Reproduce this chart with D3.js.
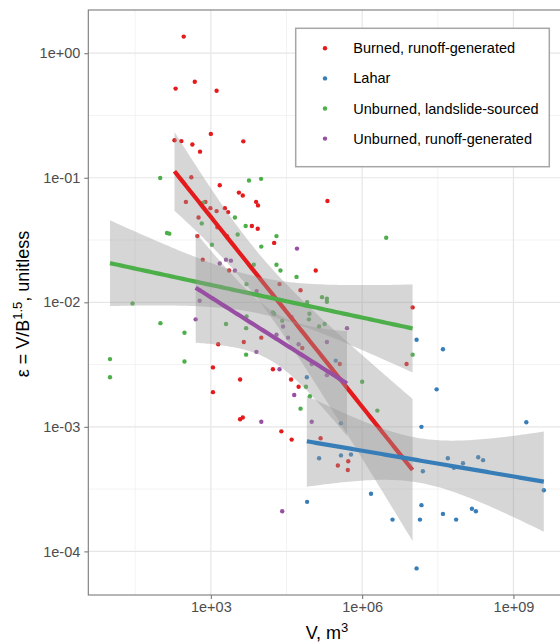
<!DOCTYPE html>
<html>
<head>
<meta charset="utf-8">
<script src="https://cdn.jsdelivr.net/npm/d3@7"></script>
<style>
  body { margin: 0; background: #fff; }
  text { font-family: "Liberation Sans", Arial, Helvetica, sans-serif; }
</style>
</head>
<body>
<div id="chart"></div>
<script>
// Groups, in legend (and drawing) order
const groups = ["Burned, runoff-generated", "Lahar", "Unburned, landslide-sourced", "Unburned, runoff-generated"];
const colors = ["#E41A1C", "#377EB8", "#4DAF4A", "#984EA3"];

// Burned, runoff-generated
const burnedV = [2.9e2, 4.8e2, 2.0e2, 1.3e3, 1.0e3, 4.4e3, 1.9e2, 2.6e2, 4.3e2, 6.1e2, 4.1e2, 1.5e3, 3.6e3, 4.3e3, 7.9e3, 8.6e3,
  3.2e2, 7.8e2, 9.8e2, 1.3e3, 1.9e3, 2.2e3, 5.7e2, 1.35e3, 6.5e3, 8.5e3, 5.4e2, 2.1e3, 1.8e4, 6.9e2, 2.3e3, 2.3e4, 2.05e5,
  1.2e5, 6.0e4, 1.0e7, 1.4e3, 4.5e3, 1.0e4, 6.5e4, 3.6e5, 7.6e6, 1.1e3, 1.7e4, 3.8e3, 3.9e4, 5.5e4, 1.1e3, 3.8e3, 4.3e3,
  2.5e4, 4.0e4, 1.5e5, 3.3e5, 5.3e5, 5.2e5];
const burnedE = [1.36, 0.59, 0.52, 0.50, 0.225, 0.196, 0.20, 0.197, 0.185, 0.162, 0.101, 0.087, 0.076, 0.072, 0.064, 0.060,
  0.064, 0.064, 0.057, 0.054, 0.057, 0.053, 0.048, 0.040, 0.041, 0.039, 0.034, 0.034, 0.030, 0.022, 0.018, 0.014, 0.065,
  0.018, 0.0125, 0.0091, 0.0046, 0.0048, 0.0052, 0.0043, 0.0032, 0.0032, 0.0030, 0.0029, 0.0024, 0.0024, 0.0021, 0.0019,
  0.00115, 0.00119, 0.00092, 0.00079, 0.00081, 0.00049, 0.00053, 0.00045];

// Lahar
const laharV = [1.2e7, 4.0e7, 3.0e7, 1.5e7, 1.8e9, 3.8e5, 1.4e5, 3.8e5, 6.0e5, 1.6e7, 5.0e7, 6.6e7, 1.0e8, 2.0e8, 2.5e8,
  4.0e9, 8.1e4, 1.5e6, 1.5e7, 1.4e7, 4.0e6, 4.0e7, 7.3e7, 1.5e8, 1.8e8, 1.2e7, 3.0e5, 8.0e4];
const laharE = [0.0050, 0.0042, 0.0020, 0.0010, 0.00109, 0.00107, 0.00056, 0.00059, 0.00060, 0.00044, 0.00056, 0.00047,
  0.00051, 0.00057, 0.00054, 0.00031, 0.00025, 0.00029, 0.000235, 0.00018, 0.00018, 0.00020, 0.00018, 0.00022, 0.00021,
  0.000073, 0.0034, 0.0025];

// Unburned, landslide-sourced
const landslideV = [99, 5.7e3, 9.9e3, 7.0e2, 3.0e3, 6.6e2, 4.9e3, 1.35e2, 1.5e2, 3.4e3, 2.0e4, 1.05e3, 1.0e4, 7.1e3, 2.0e4,
  2.4e4, 5.1e3, 28, 3.0e6, 5.0e4, 1.6e5, 2.0e5, 2.0e5, 8.1e4, 1.7e4, 1.8e4, 9.0e4, 8.8e4, 5.1e3, 2.6e4, 1.8e5, 1.4e5,
  5.0e3, 5.0e3, 1.0e6, 7.7e4, 9.2e4, 6.0e4, 1.0e7, 2.0e6, 1.0e2, 2.0e3, 3.0e2, 10, 3.0e2, 10];
const landslideE = [0.0995, 0.095, 0.098, 0.063, 0.048, 0.043, 0.041, 0.036, 0.0356, 0.035, 0.034, 0.029, 0.028, 0.020,
  0.020, 0.018, 0.014, 0.0098, 0.033, 0.016, 0.011, 0.0107, 0.0101, 0.0100, 0.0083, 0.0081, 0.0081, 0.0073, 0.0077, 0.0071,
  0.0067, 0.0064, 0.0062, 0.0038, 0.0023, 0.0021, 0.00176, 0.0014, 0.0038, 0.00135, 0.0068, 0.0067, 0.0057, 0.0035,
  0.00335, 0.0025];

// Unburned, runoff-generated
const runoffV = [2.0e3, 2.5e3, 1.5e3, 3.0e3, 8.1e3, 5.1e4, 6.0e2, 5.0e2, 4.0e4, 2.7e4, 5.0e5, 2.0e4, 3.4e4, 2.0e5, 5.5e4,
  8.0e3, 1.0e5, 2.3e4, 2.0e5, 4.5e4, 1.0e4, 1.0e5, 2.6e4];
const runoffE = [0.022, 0.0216, 0.0205, 0.018, 0.0123, 0.027, 0.0103, 0.0073, 0.0076, 0.0064, 0.0062, 0.0055, 0.0052,
  0.0048, 0.0046, 0.0040, 0.0032, 0.0029, 0.0026, 0.0018, 0.0011, 0.0011, 0.00021];

const xTicks = [1e3, 1e6, 1e9];
const yTicks = [1e0, 1e-1, 1e-2, 1e-3, 1e-4];

const seriesV = [burnedV, laharV, landslideV, runoffV];
const seriesE = [burnedE, laharE, landslideE, runoffE];

const width = 560, height = 642;
const panel = { left: 88.3, top: 10, right: 565.5, bottom: 595 };

const data = [];
groups.forEach((g, i) => seriesV[i].forEach((v, j) => data.push({ group: i, v: v, e: seriesE[i][j] })));

// ggplot-style 5% expansion in log space
const expandLog = (vals) => {
  const [a, b] = d3.extent(vals, d => Math.log10(d));
  const pad = (b - a) * 0.05;
  return [Math.pow(10, a - pad), Math.pow(10, b + pad)];
};

const x = d3.scaleLog().domain(expandLog(data.map(d => d.v))).range([panel.left, panel.right]);
const y = d3.scaleLog().domain(expandLog(data.map(d => d.e))).range([panel.bottom, panel.top]);

const fmt = d => {
  const p = Math.round(Math.log10(d));
  return "1e" + (p < 0 ? "-" : "+") + String(Math.abs(p)).padStart(2, "0");
};

// approx. 97.5% t quantile
const tq = (df) => {
  const z = 1.959964;
  return z + (z ** 3 + z) / (4 * df) + (5 * z ** 5 + 16 * z ** 3 + 3 * z) / (96 * df * df);
};

// linear fit of log10(e) on log10(v), with confidence band
const fitGroup = (vs, es) => {
  const xs = vs.map(Math.log10), ys = es.map(Math.log10);
  const n = xs.length;
  const mx = d3.mean(xs), my = d3.mean(ys);
  const sxx = d3.sum(xs, a => (a - mx) ** 2);
  const sxy = d3.sum(xs, (a, k) => (a - mx) * (ys[k] - my));
  const b = sxy / sxx, a0 = my - b * mx;
  const s = Math.sqrt(d3.sum(xs, (a, k) => (ys[k] - a0 - b * a) ** 2) / (n - 2));
  const t = tq(n - 2);
  const [lo, hi] = d3.extent(xs);
  return d3.range(80).map(k => {
    const xv = lo + (hi - lo) * k / 79;
    const fit = a0 + b * xv;
    const se = s * Math.sqrt(1 / n + (xv - mx) ** 2 / sxx);
    return { v: Math.pow(10, xv), fit: Math.pow(10, fit), lo: Math.pow(10, fit - t * se), hi: Math.pow(10, fit + t * se) };
  });
};

const svg = d3.select("#chart").append("svg").attr("width", width).attr("height", height);

svg.append("defs").append("clipPath").attr("id", "clip")
  .append("rect").attr("x", panel.left).attr("y", panel.top)
  .attr("width", panel.right - panel.left).attr("height", panel.bottom - panel.top);

// grid
const grid = svg.append("g");
const xMinor = xTicks.map(t => t / Math.pow(10, 1.5)).concat([xTicks[2] * Math.pow(10, 1.5)]);
const yMinor = yTicks.map(t => t * Math.pow(10, 0.5)).concat([yTicks[4] / Math.pow(10, 0.5)]);
grid.selectAll(".xminor").data(xMinor.filter(d => x(d) > panel.left && x(d) < panel.right)).enter().append("line")
  .attr("x1", d => x(d)).attr("x2", d => x(d)).attr("y1", panel.top).attr("y2", panel.bottom)
  .attr("stroke", "#f0f0f0").attr("stroke-width", 0.8);
grid.selectAll(".yminor").data(yMinor.filter(d => y(d) > panel.top && y(d) < panel.bottom)).enter().append("line")
  .attr("y1", d => y(d)).attr("y2", d => y(d)).attr("x1", panel.left).attr("x2", panel.right)
  .attr("stroke", "#f0f0f0").attr("stroke-width", 0.8);
grid.selectAll(".xmajor").data(xTicks).enter().append("line")
  .attr("x1", d => x(d)).attr("x2", d => x(d)).attr("y1", panel.top).attr("y2", panel.bottom)
  .attr("stroke", "#e6e6e6").attr("stroke-width", 1.2);
grid.selectAll(".ymajor").data(yTicks).enter().append("line")
  .attr("y1", d => y(d)).attr("y2", d => y(d)).attr("x1", panel.left).attr("x2", panel.right)
  .attr("stroke", "#e6e6e6").attr("stroke-width", 1.2);

const plot = svg.append("g").attr("clip-path", "url(#clip)");

// points
plot.selectAll(".pt").data(data).enter().append("circle")
  .attr("class", "pt")
  .attr("cx", d => x(d.v)).attr("cy", d => y(d.e)).attr("r", 2.2)
  .attr("fill", d => colors[d.group]);

// smooths: ribbon then line, per group
const area = d3.area().x(d => x(d.v)).y0(d => y(d.lo)).y1(d => y(d.hi));
const line = d3.line().x(d => x(d.v)).y(d => y(d.fit));
groups.forEach((g, i) => {
  const fit = fitGroup(seriesV[i], seriesE[i]);
  plot.append("path").attr("d", area(fit)).attr("fill", "#999999").attr("fill-opacity", 0.4);
  plot.append("path").attr("d", line(fit)).attr("fill", "none")
    .attr("stroke", colors[i]).attr("stroke-width", 4.2);
});

// panel border
svg.append("rect").attr("x", panel.left).attr("y", panel.top)
  .attr("width", panel.right - panel.left).attr("height", panel.bottom - panel.top)
  .attr("fill", "none").attr("stroke", "#7a7a7a").attr("stroke-width", 1.1);

// axes
const xAxis = svg.append("g").attr("transform", `translate(0,${panel.bottom})`)
  .call(d3.axisBottom(x).tickValues(xTicks).tickFormat(fmt).tickSize(4).tickPadding(3));
const yAxis = svg.append("g").attr("transform", `translate(${panel.left},0)`)
  .call(d3.axisLeft(y).tickValues(yTicks).tickFormat(fmt).tickSize(4).tickPadding(4));
[xAxis, yAxis].forEach(ax => {
  ax.select(".domain").remove();
  ax.selectAll(".tick line").attr("stroke", "#7a7a7a").attr("stroke-width", 1.1);
  ax.selectAll(".tick text").attr("fill", "#4d4d4d").style("font-size", "14.5px")
    .style("font-family", "'Liberation Sans', Arial, sans-serif");
});

// axis titles
const xt = svg.append("text").attr("x", 327).attr("y", 639).attr("text-anchor", "middle")
  .style("font-size", "18px").attr("fill", "#000");
xt.append("tspan").text("V, m");
xt.append("tspan").attr("dy", -7).style("font-size", "13px").text("3");

const yt = svg.append("text").attr("transform", "translate(29,304) rotate(-90)").attr("text-anchor", "middle")
  .style("font-size", "18px").attr("fill", "#000");
yt.append("tspan").text("ε = V/B");
yt.append("tspan").attr("dy", -7).style("font-size", "13px").text("1.5");
yt.append("tspan").attr("dy", 7).text(", unitless");

// legend
const lg = svg.append("g").attr("transform", "translate(295.7,28.3)");
lg.append("rect").attr("width", 253.6).attr("height", 138.4)
  .attr("fill", "#fff").attr("stroke", "#a6a6a6").attr("stroke-width", 1.5);
const items = lg.selectAll(".item").data(groups).enter().append("g")
  .attr("transform", (d, i) => `translate(0,${20 + i * 30.1})`);
items.append("circle").attr("cx", 29.3).attr("cy", 0).attr("r", 2.2).attr("fill", (d, i) => colors[i]);
items.append("text").attr("x", 57.6).attr("y", 0).attr("dy", "0.35em")
  .style("font-size", "14.5px").attr("fill", "#000").text(d => d);
</script>
</body>
</html>
